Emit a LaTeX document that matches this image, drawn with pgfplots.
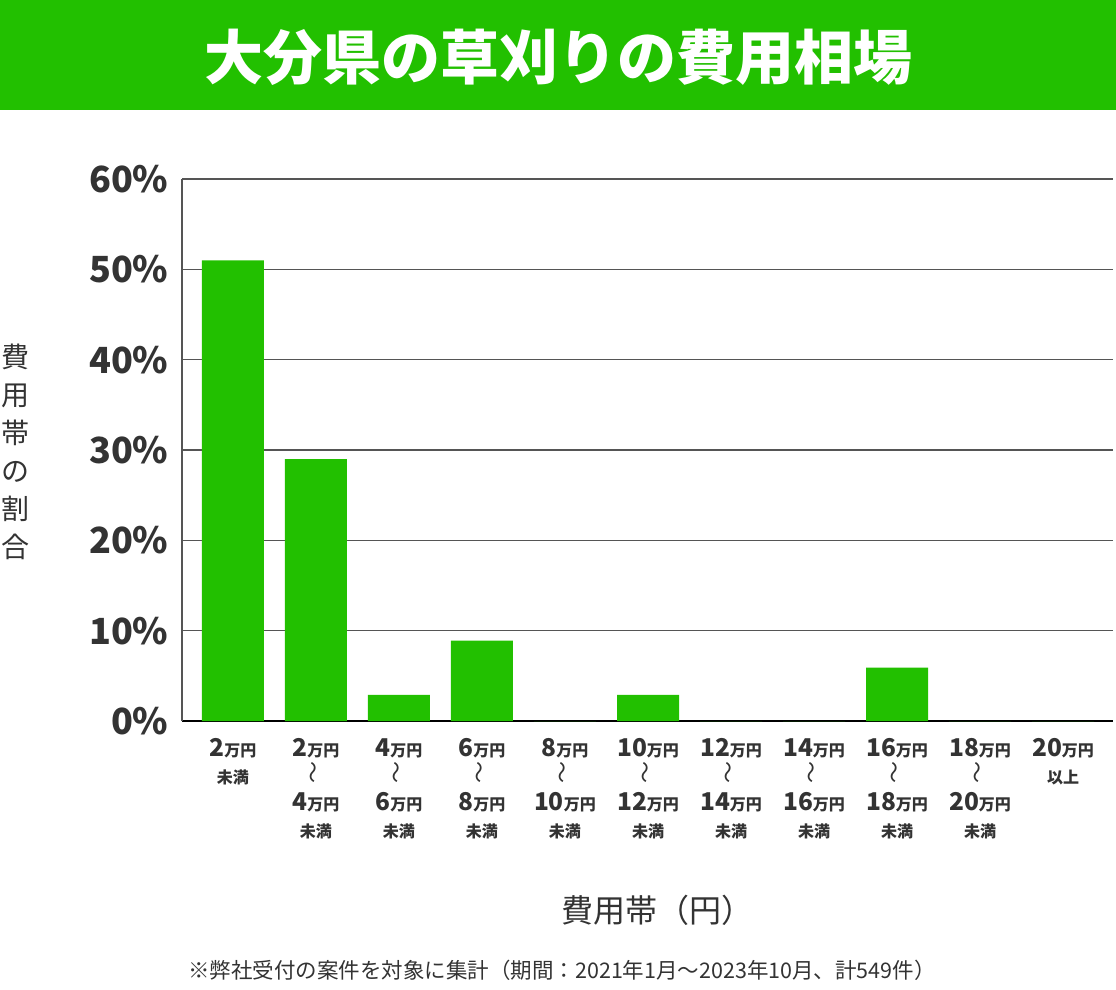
\documentclass[border=0pt]{standalone}
\usepackage{fontspec}
\setmainfont{Noto Sans CJK JP}
\usepackage{graphicx}
\usepackage{pgfplots}
\pgfplotsset{compat=1.18}
\definecolor{grn}{HTML}{22C000}
\definecolor{txt}{HTML}{333333}
\definecolor{grd}{HTML}{555555}
\newcommand{\yen}[1]{{\fontsize{24.5bp}{27bp}\selectfont\bfseries #1}{\fontsize{16bp}{27bp}\selectfont\bfseries 万円}}
\newcommand{\mm}{{\fontsize{16bp}{27bp}\selectfont\bfseries 未満}}
\newcommand{\wv}{\rotatebox{90}{\fontsize{22bp}{22bp}\selectfont ～}}
\begin{document}
\begin{tikzpicture}
\useasboundingbox (0,0) rectangle (1116bp,-990bp);
\fill[white] (0,0) rectangle (1116bp,-990bp);
\fill[grn] (0,0) rectangle (1116bp,-110bp);
\node[white, font=\fontsize{59bp}{59bp}\selectfont\bfseries] at (558bp,-57bp) {大分県の草刈りの費用相場};
\begin{axis}[
  at={(182bp,-721bp)}, anchor=south west,
  scale only axis, width=931bp, height=542bp,
  xmin=-0.614, xmax=10.602, ymin=0, ymax=60,
  ytick={0,10,...,60},
  xtick={0,...,10},
  axis lines=left,
  axis line style={-},
  x axis line style={black, line width=2bp},
  y axis line style={grd, line width=1.5bp},
  ymajorgrids,
  grid style={grd, line width=1.2bp},
  major tick length=0pt,
  ybar, bar width=62bp,
  /pgf/number format/assume math mode=true,
  yticklabel={\pgfmathprintnumber{\tick}\%},
  yticklabel style={font=\fontsize{36bp}{36bp}\selectfont\bfseries, text=txt, anchor=east, xshift=-10bp},
  xticklabel style={font=\fontsize{16bp}{27bp}\selectfont, text=txt, anchor=north, align=center, yshift=-14bp},
  xticklabels={
    {\yen{2}\\\mm},
    {\yen{2}\\\wv\\\yen{4}\\\mm},
    {\yen{4}\\\wv\\\yen{6}\\\mm},
    {\yen{6}\\\wv\\\yen{8}\\\mm},
    {\yen{8}\\\wv\\\yen{10}\\\mm},
    {\yen{10}\\\wv\\\yen{12}\\\mm},
    {\yen{12}\\\wv\\\yen{14}\\\mm},
    {\yen{14}\\\wv\\\yen{16}\\\mm},
    {\yen{16}\\\wv\\\yen{18}\\\mm},
    {\yen{18}\\\wv\\\yen{20}\\\mm},
    {\yen{20}\\{\fontsize{16bp}{27bp}\selectfont\bfseries 以上}}
  },
]
\addplot[fill=grn, draw=none] coordinates {
  (0,51.0) (1,29.0) (2,2.9) (3,8.9) (4,0) (5,2.9) (6,0) (7,0) (8,5.9) (9,0) (10,0)
};
\end{axis}
\node[text=txt, align=center, font=\fontsize{28bp}{38bp}\selectfont] at (15bp,-452bp) {費\\用\\帯\\の\\割\\合};
\node[text=txt, font=\fontsize{32bp}{32bp}\selectfont] at (657bp,-910bp) {費用帯（円）};
\node[text=txt, font=\fontsize{21.5bp}{21.5bp}\selectfont] at (562bp,-970bp) {※弊社受付の案件を対象に集計（期間：2021年1月～2023年10月、計549件）};
\end{tikzpicture}
\end{document}
